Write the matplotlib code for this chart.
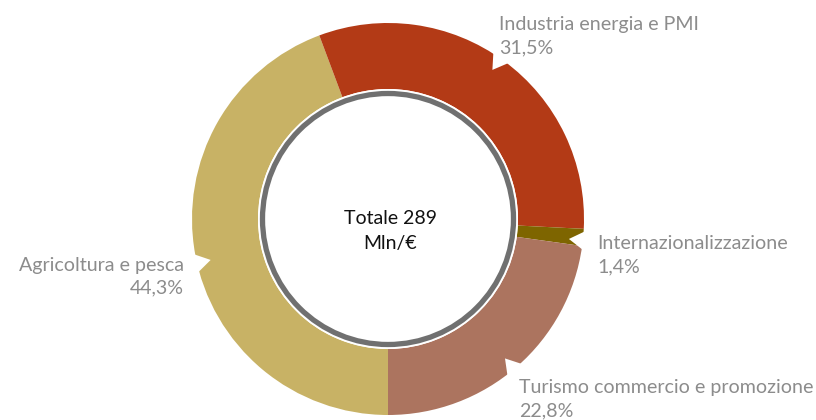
import matplotlib
matplotlib.use("Agg")
import matplotlib.pyplot as plt
from matplotlib.patches import Circle, Polygon
import numpy as np

# ---- data ----
categories = ["Agricoltura e pesca", "Industria energia e PMI",
              "Internazionalizzazione", "Turismo commercio e promozione"]
values = [44.3, 31.5, 1.4, 22.8]
pct_labels = ["44,3%", "31,5%", "1,4%", "22,8%"]
colors = ["#C8B265", "#B33A16", "#7E6500", "#AC745F"]
center_text = ["Totale 289", "Mln/€"]

W, H = 816, 420
fig = plt.figure(figsize=(W / 100, H / 100), dpi=100)
ax = fig.add_axes([0, 0, 1, 1])

cx, cy = 388, H - 219
r_out, r_in = 196, 130

wedges, _ = ax.pie(values, colors=colors, radius=r_out, center=(cx, cy),
                   startangle=-90, counterclock=False,
                   wedgeprops=dict(width=r_out - r_in, edgecolor="none"),
                   frame=True)
ax.set_xlim(0, W)
ax.set_ylim(0, H)
ax.set_aspect("equal")
ax.axis("off")

# callout pointers (white notches) toward labels
pointer_angles = [193.0, 55.0, -6.3, -50.0]
for a in pointer_angles:
    half = 3.3
    pts = []
    for ang, rr in [(a - half, 201), (a + half, 201), (a, 182)]:
        t = np.deg2rad(ang)
        pts.append((cx + rr * np.cos(t), cy + rr * np.sin(t)))
    ax.add_patch(Polygon(pts, closed=True, facecolor="white", edgecolor="none", zorder=3))

# inner white disk with grey ring
ax.add_patch(Circle((cx, cy), r_in, facecolor="white", edgecolor="none", zorder=4))
ax.add_patch(Circle((cx, cy), 125.5, facecolor="white", edgecolor="#707070",
                    linewidth=3.8, zorder=5))

for line, yb in zip(center_text, [224, 249]):
    ax.text(cx + 2, H - yb, line, ha="center", va="baseline",
            fontsize=14, family="Lato", color="#111111", zorder=6)

# label positions (x, baseline of name, baseline of pct, ha)
label_pos = [(184, 271, 293, "right"),
             (499, 30, 53, "left"),
             (597, 249, 272, "left"),
             (519, 393, 416, "left")]
grey = "#8C8C8C"
for (x, yb1, yb2, ha), name, pct in zip(label_pos, categories, pct_labels):
    ax.text(x, H - yb1, name, ha=ha, va="baseline", fontsize=14.1,
            family="Lato", fontweight="normal", color=grey, zorder=6)
    ax.text(x, H - yb2, pct, ha=ha, va="baseline", fontsize=14.1,
            family="Lato", fontweight="normal", color=grey, zorder=6)

fig.savefig("out.png", dpi=100)
